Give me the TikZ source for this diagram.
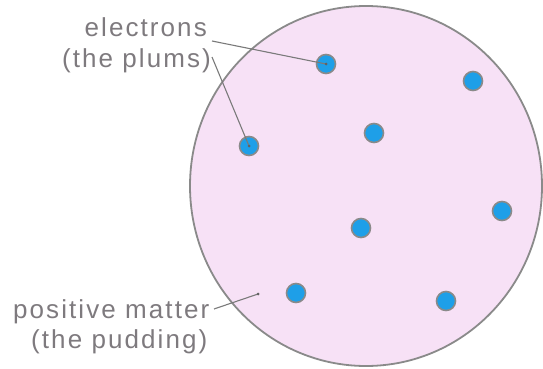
\documentclass[tikz,border=0pt]{standalone}
\usepackage{fontspec}
\usetikzlibrary{shapes.geometric}
\newfontfamily\labfont{Liberation Sans}[LetterSpace=8]
\definecolor{pudding}{HTML}{F7E1F6}
\definecolor{rim}{HTML}{8A8A8A}
\definecolor{plum}{HTML}{1E9FE8}
\definecolor{labgray}{HTML}{7E7A7E}
\definecolor{leader}{HTML}{7A7A7A}
\begin{document}
\begin{tikzpicture}[x=1pt,y=-1pt,
  lab/.style={inner sep=0pt,text=labgray,font=\labfont\fontsize{26}{30}\selectfont},
  electron/.style={circle,minimum size=19pt,inner sep=0pt,fill=plum,draw=rim,line width=1.6pt},
  leadline/.style={draw=leader,line width=1.1pt},
  tip/.style={circle,fill=leader!80!black,minimum size=3pt,inner sep=0pt}]
\useasboundingbox (0,0) rectangle (543,369);
\node[ellipse,draw=rim,fill=pudding,line width=1.8pt,minimum width=352pt,minimum height=360pt,inner sep=0pt] (atom) at (366,186) {};
% electrons
\node[electron] (p1) at (326,64) {};
\node[electron] (p2) at (473,81) {};
\node[electron] (p3) at (374,133) {};
\node[electron] (p4) at (249,146) {};
\node[electron] (p5) at (502,211) {};
\node[electron] (p6) at (361,228) {};
\node[electron] (p7) at (296,293) {};
\node[electron] (p8) at (446,301) {};
% labels
\node[lab,anchor=base east] (e1) at (207,37) {electrons};
\node[lab,anchor=base east] (e2) at (211,67) {(the plums)};
\node[lab,anchor=base west] (m1) at (13,318) {positive matter};
\node[lab,anchor=base west] (m2) at (31,348) {(the pudding)};
% leader ends
\coordinate (s1) at (212,41);
\coordinate (s2) at (212,57);
\coordinate (s3) at (214,309);
\coordinate (pm) at (258,294);
\draw[leadline] (s1) -- (p1.center);
\draw[leadline] (s2) -- (p4.center);
\draw[leadline] (s3) -- (pm);
\node[tip] (t1) at (p1.center) {};
\node[tip] (t2) at (p4.center) {};
\node[tip] (t3) at (pm) {};
\end{tikzpicture}
\end{document}
